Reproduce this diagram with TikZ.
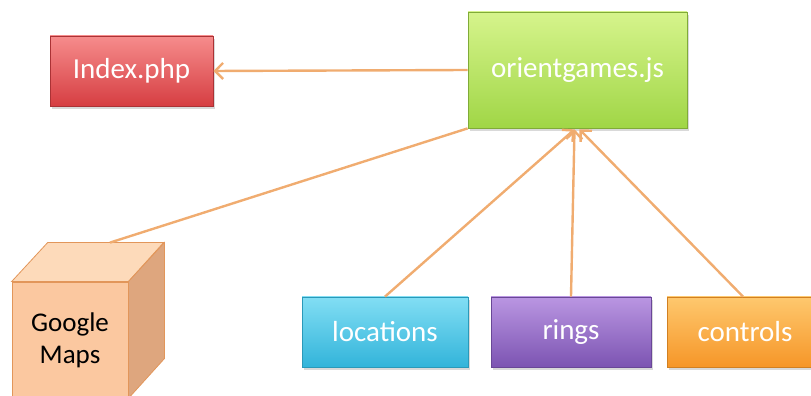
\documentclass[tikz,border=0pt]{standalone}
\usepackage{fontspec}
\setmainfont{Carlito}
\usetikzlibrary{arrows.meta,calc,shadows}

\definecolor{linkorange}{RGB}{240,172,112}
\definecolor{redtop}{RGB}{246,140,140}
\definecolor{redbot}{RGB}{214,62,66}
\definecolor{greentop}{RGB}{214,244,140}
\definecolor{greenbot}{RGB}{160,214,70}
\definecolor{cyantop}{RGB}{130,222,244}
\definecolor{cyanbot}{RGB}{50,180,218}
\definecolor{purpletop}{RGB}{186,150,226}
\definecolor{purplebot}{RGB}{124,84,178}
\definecolor{orangetop}{RGB}{254,200,110}
\definecolor{orangebot}{RGB}{246,150,40}
\definecolor{cubefront}{RGB}{251,200,160}
\definecolor{cubetop}{RGB}{253,218,186}
\definecolor{cubeside}{RGB}{222,166,126}
\definecolor{cubeedge}{RGB}{226,150,90}

\tikzset{
	filebox/.style={minimum width=#1*0.5pt, minimum height=35pt, inner sep=0pt,
		text=white, font=\fontsize{14.5}{16}\selectfont,
		drop shadow={shadow xshift=1pt, shadow yshift=-1.5pt, opacity=0.3}},
	link/.style={draw=linkorange, line width=1.2pt},
	linkto/.style={link, -{Straight Barb[length=4pt,width=8pt]}}
}

\begin{document}
\begin{tikzpicture}[x=0.5pt, y=0.5pt]
	\useasboundingbox (0,0) rectangle (811,396);
	% script and pages
	\node [filebox=163, top color=redtop, bottom color=redbot, draw=redbot!80!black] (index) at (131.5,325) {Index.php};
	\node [filebox=219, minimum height=58pt, top color=greentop, bottom color=greenbot, draw=greenbot!80!black] (orient) at (577.5,326) {orientgames.js};
	% modules
	\node [filebox=166, top color=cyantop, bottom color=cyanbot, draw=cyanbot!85!black] (locations) at (385,64) {locations};
	\node [filebox=160, top color=purpletop, bottom color=purplebot, draw=purplebot!85!black] (rings) at (571,64) {rings};
	\node [filebox=156, top color=orangetop, bottom color=orangebot, draw=orangebot!85!black] (controls) at (745,64) {controls};
	% cube
	\node [minimum width=58pt, minimum height=58pt, inner sep=0pt, fill=cubefront, draw=cubeedge, align=center,
		font=\fontsize{13.5}{16}\selectfont] (gmaps) at (70,56) {Google\\Maps};
	\fill [cubetop, draw=cubeedge] (gmaps.north west) -- ++(36,39) -- ++(116,0) -- (gmaps.north east) -- cycle;
	\fill [cubeside, draw=cubeedge] (gmaps.north east) -- ++(36,39) -- ++(0,-116) -- (gmaps.south east) -- cycle;
	\coordinate (gmaps top) at ($(gmaps.north)+(40,39)$);
	% links
	\draw [linkto] (orient.west) -- (index.east);
	\draw [link] (gmaps top) -- (orient.south west);
	\draw [linkto] (locations.north) -- ($(orient.south)+(-3,-1)$);
	\draw [linkto] (rings.north) -- ($(orient.south)+(-3,-1)$);
	\draw [linkto] ($(controls.north)+(-2,0)$) -- ($(orient.south)+(2,-1)$);
\end{tikzpicture}
\end{document}
